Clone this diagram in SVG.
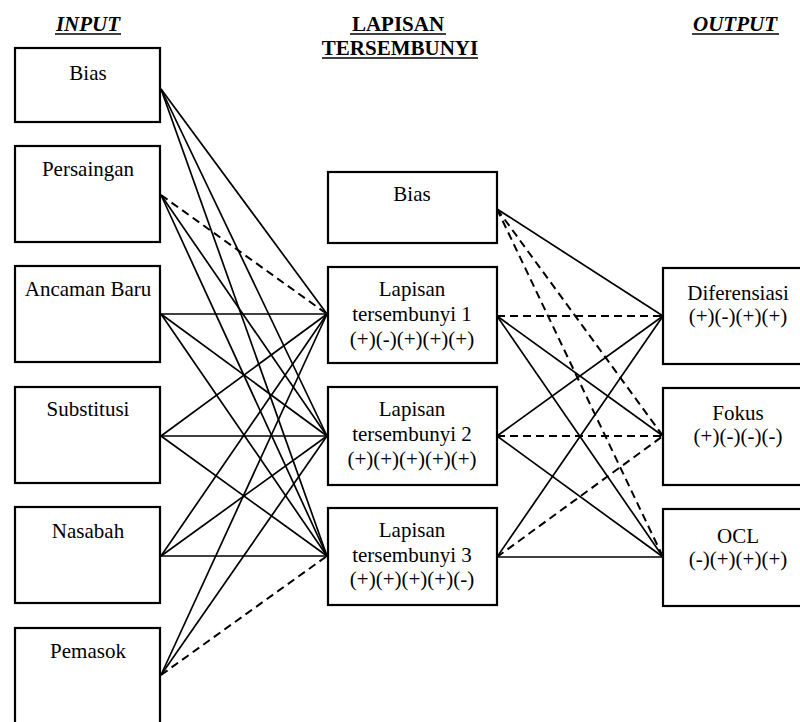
<svg xmlns="http://www.w3.org/2000/svg" width="800" height="722" viewBox="0 0 800 722">
  <style>
    .box { fill: #fff; stroke: #000; stroke-width: 2.2; }
    text { font-family: "Times New Roman", Times, "Liberation Serif", Tinos, "Noto Serif", "DejaVu Serif", FreeSerif, serif; font-size: 21px; fill: #000; text-anchor: middle; }
    .hdr { font-weight: bold; }
    .it { font-style: italic; }
    .ul { stroke: #000; stroke-width: 1.5; }
    .w { fill: none; stroke: #000; stroke-width: 1.7; }
    .neg { stroke-dasharray: 8 5; stroke-width: 2; }
  </style>
  <rect width="800" height="722" fill="#fff"/>

  <!-- column headings -->
  <g id="headings">
    <text class="hdr it" x="88" y="31">INPUT</text>
    <line class="ul" x1="55" y1="34" x2="121" y2="34"/>
    <text class="hdr" x="398" y="31">LAPISAN</text>
    <line class="ul" x1="350" y1="34" x2="446" y2="34"/>
    <text class="hdr" x="400" y="55">TERSEMBUNYI</text>
    <line class="ul" x1="322" y1="58" x2="478" y2="58"/>
    <text class="hdr it" x="735" y="31">OUTPUT</text>
    <line class="ul" x1="692" y1="34" x2="779" y2="34"/>
  </g>

  <!-- weights: solid = positive, dashed = negative -->
  <g id="connectors">
    <!-- input layer to hidden layer -->
    <line class="w" x1="161" y1="89" x2="327" y2="314"/>
    <line class="w" x1="161" y1="89" x2="327" y2="436"/>
    <line class="w" x1="161" y1="89" x2="327" y2="556"/>
    <line class="w neg" x1="161" y1="195" x2="327" y2="314"/>
    <line class="w" x1="161" y1="195" x2="327" y2="436"/>
    <line class="w" x1="161" y1="195" x2="327" y2="556"/>
    <line class="w" x1="161" y1="314" x2="327" y2="314"/>
    <line class="w" x1="161" y1="314" x2="327" y2="436"/>
    <line class="w" x1="161" y1="314" x2="327" y2="556"/>
    <line class="w" x1="161" y1="436" x2="327" y2="314"/>
    <line class="w" x1="161" y1="436" x2="327" y2="436"/>
    <line class="w" x1="161" y1="436" x2="327" y2="556"/>
    <line class="w" x1="161" y1="556" x2="327" y2="314"/>
    <line class="w" x1="161" y1="556" x2="327" y2="436"/>
    <line class="w" x1="161" y1="556" x2="327" y2="556"/>
    <line class="w" x1="161" y1="675" x2="327" y2="314"/>
    <line class="w" x1="161" y1="675" x2="327" y2="436"/>
    <line class="w neg" x1="161" y1="675" x2="327" y2="556"/>
    <!-- hidden layer to output layer -->
    <line class="w" x1="497" y1="209" x2="663" y2="316"/>
    <line class="w neg" x1="497" y1="209" x2="663" y2="436"/>
    <line class="w neg" x1="497" y1="209" x2="663" y2="557"/>
    <line class="w neg" x1="497" y1="316" x2="663" y2="316"/>
    <line class="w" x1="497" y1="316" x2="663" y2="436"/>
    <line class="w" x1="497" y1="316" x2="663" y2="557"/>
    <line class="w" x1="497" y1="436" x2="663" y2="316"/>
    <line class="w neg" x1="497" y1="436" x2="663" y2="436"/>
    <line class="w" x1="497" y1="436" x2="663" y2="557"/>
    <line class="w" x1="497" y1="557" x2="663" y2="316"/>
    <line class="w neg" x1="497" y1="557" x2="663" y2="436"/>
    <line class="w" x1="497" y1="557" x2="663" y2="557"/>
  </g>

  <!-- input layer -->
  <g id="in-bias">
    <rect class="box" x="15" y="48" width="145" height="74"/>
    <text x="88" y="80">Bias</text>
  </g>
  <g id="in-persaingan">
    <rect class="box" x="15" y="146" width="145" height="96"/>
    <text x="88" y="176">Persaingan</text>
  </g>
  <g id="in-ancaman">
    <rect class="box" x="15" y="266" width="145" height="96"/>
    <text x="88" y="296">Ancaman Baru</text>
  </g>
  <g id="in-substitusi">
    <rect class="box" x="15" y="387" width="145" height="96"/>
    <text x="88" y="416">Substitusi</text>
  </g>
  <g id="in-nasabah">
    <rect class="box" x="15" y="507" width="145" height="96"/>
    <text x="88" y="538">Nasabah</text>
  </g>
  <g id="in-pemasok">
    <rect class="box" x="15" y="628" width="145" height="96"/>
    <text x="88" y="658">Pemasok</text>
  </g>

  <!-- hidden layer -->
  <g id="hid-bias">
    <rect class="box" x="328" y="172" width="169" height="71"/>
    <text x="412" y="201">Bias</text>
  </g>
  <g id="hid-1">
    <rect class="box" x="328" y="267" width="169" height="96"/>
    <text x="412" y="296">Lapisan</text>
    <text x="412" y="321">tersembunyi 1</text>
    <text x="412" y="346">(+)(-)(+)(+)(+)</text>
  </g>
  <g id="hid-2">
    <rect class="box" x="328" y="387" width="169" height="98"/>
    <text x="412" y="416">Lapisan</text>
    <text x="412" y="441">tersembunyi 2</text>
    <text x="412" y="466">(+)(+)(+)(+)(+)</text>
  </g>
  <g id="hid-3">
    <rect class="box" x="328" y="508" width="169" height="97"/>
    <text x="412" y="537">Lapisan</text>
    <text x="412" y="562">tersembunyi 3</text>
    <text x="412" y="586">(+)(+)(+)(+)(-)</text>
  </g>

  <!-- output layer -->
  <g id="out-diferensiasi">
    <rect class="box" x="663" y="268" width="150" height="96"/>
    <text x="738" y="300">Diferensiasi</text>
    <text x="738" y="323">(+)(-)(+)(+)</text>
  </g>
  <g id="out-fokus">
    <rect class="box" x="663" y="388" width="150" height="97"/>
    <text x="738" y="420">Fokus</text>
    <text x="738" y="443">(+)(-)(-)(-)</text>
  </g>
  <g id="out-ocl">
    <rect class="box" x="663" y="509" width="150" height="97"/>
    <text x="738" y="543">OCL</text>
    <text x="738" y="566">(-)(+)(+)(+)</text>
  </g>
</svg>
